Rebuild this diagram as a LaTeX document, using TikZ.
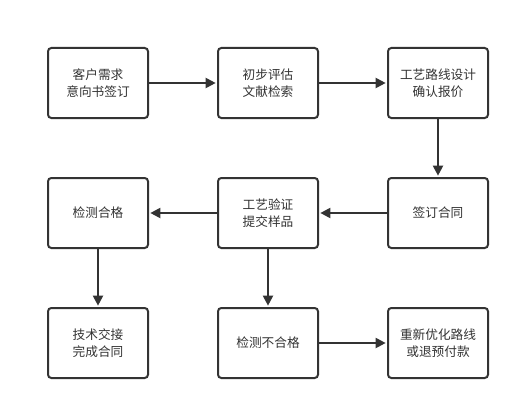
\documentclass[tikz,border=0pt]{standalone}
\usepackage{fontspec}
\usepackage{xcolor}
\usetikzlibrary{arrows.meta,positioning}
\newfontfamily\cjk{Noto Sans CJK SC}
\definecolor{ink}{RGB}{51,51,51}

\begin{document}
\begin{tikzpicture}[x=0.75pt,y=-0.75pt,>={Triangle[length=7.5pt,width=7.5pt]},font=\cjk\fontsize{9.5}{12.75}\selectfont]
\tikzset{st/.style={draw=ink,text=ink,line width=1.5pt,rounded corners=2.5pt,fill=white,align=center,minimum width=75pt,minimum height=52.5pt,inner sep=0pt},
  arr/.style={->,line width=1.5pt,draw=ink,shorten >=1pt}}
\useasboundingbox (0,0) rectangle (520,410);
\node[st] (req) at (98,83) {客户需求\\意向书签订};
\node[st] (eval) at (268,83) {初步评估\\文献检索};
\node[st] (route) at (438,83) {工艺路线设计\\确认报价};
\node[st] (sign) at (438,213) {签订合同};
\node[st] (ver) at (268,213) {工艺验证\\提交样品};
\node[st] (pass) at (98,213) {检测合格};
\node[st] (done) at (98,343) {技术交接\\完成合同};
\node[st] (fail) at (268,343) {检测不合格};
\node[st] (redo) at (438,343) {重新优化路线\\或退预付款};
\draw[arr] (req)--(eval);\draw[arr] (eval)--(route);\draw[arr] (route)--(sign);
\draw[arr] (sign)--(ver);\draw[arr] (ver)--(pass);
\draw[arr] (pass)--(done);\draw[arr] (ver)--(fail);\draw[arr] (fail)--(redo);
\end{tikzpicture}
\end{document}
